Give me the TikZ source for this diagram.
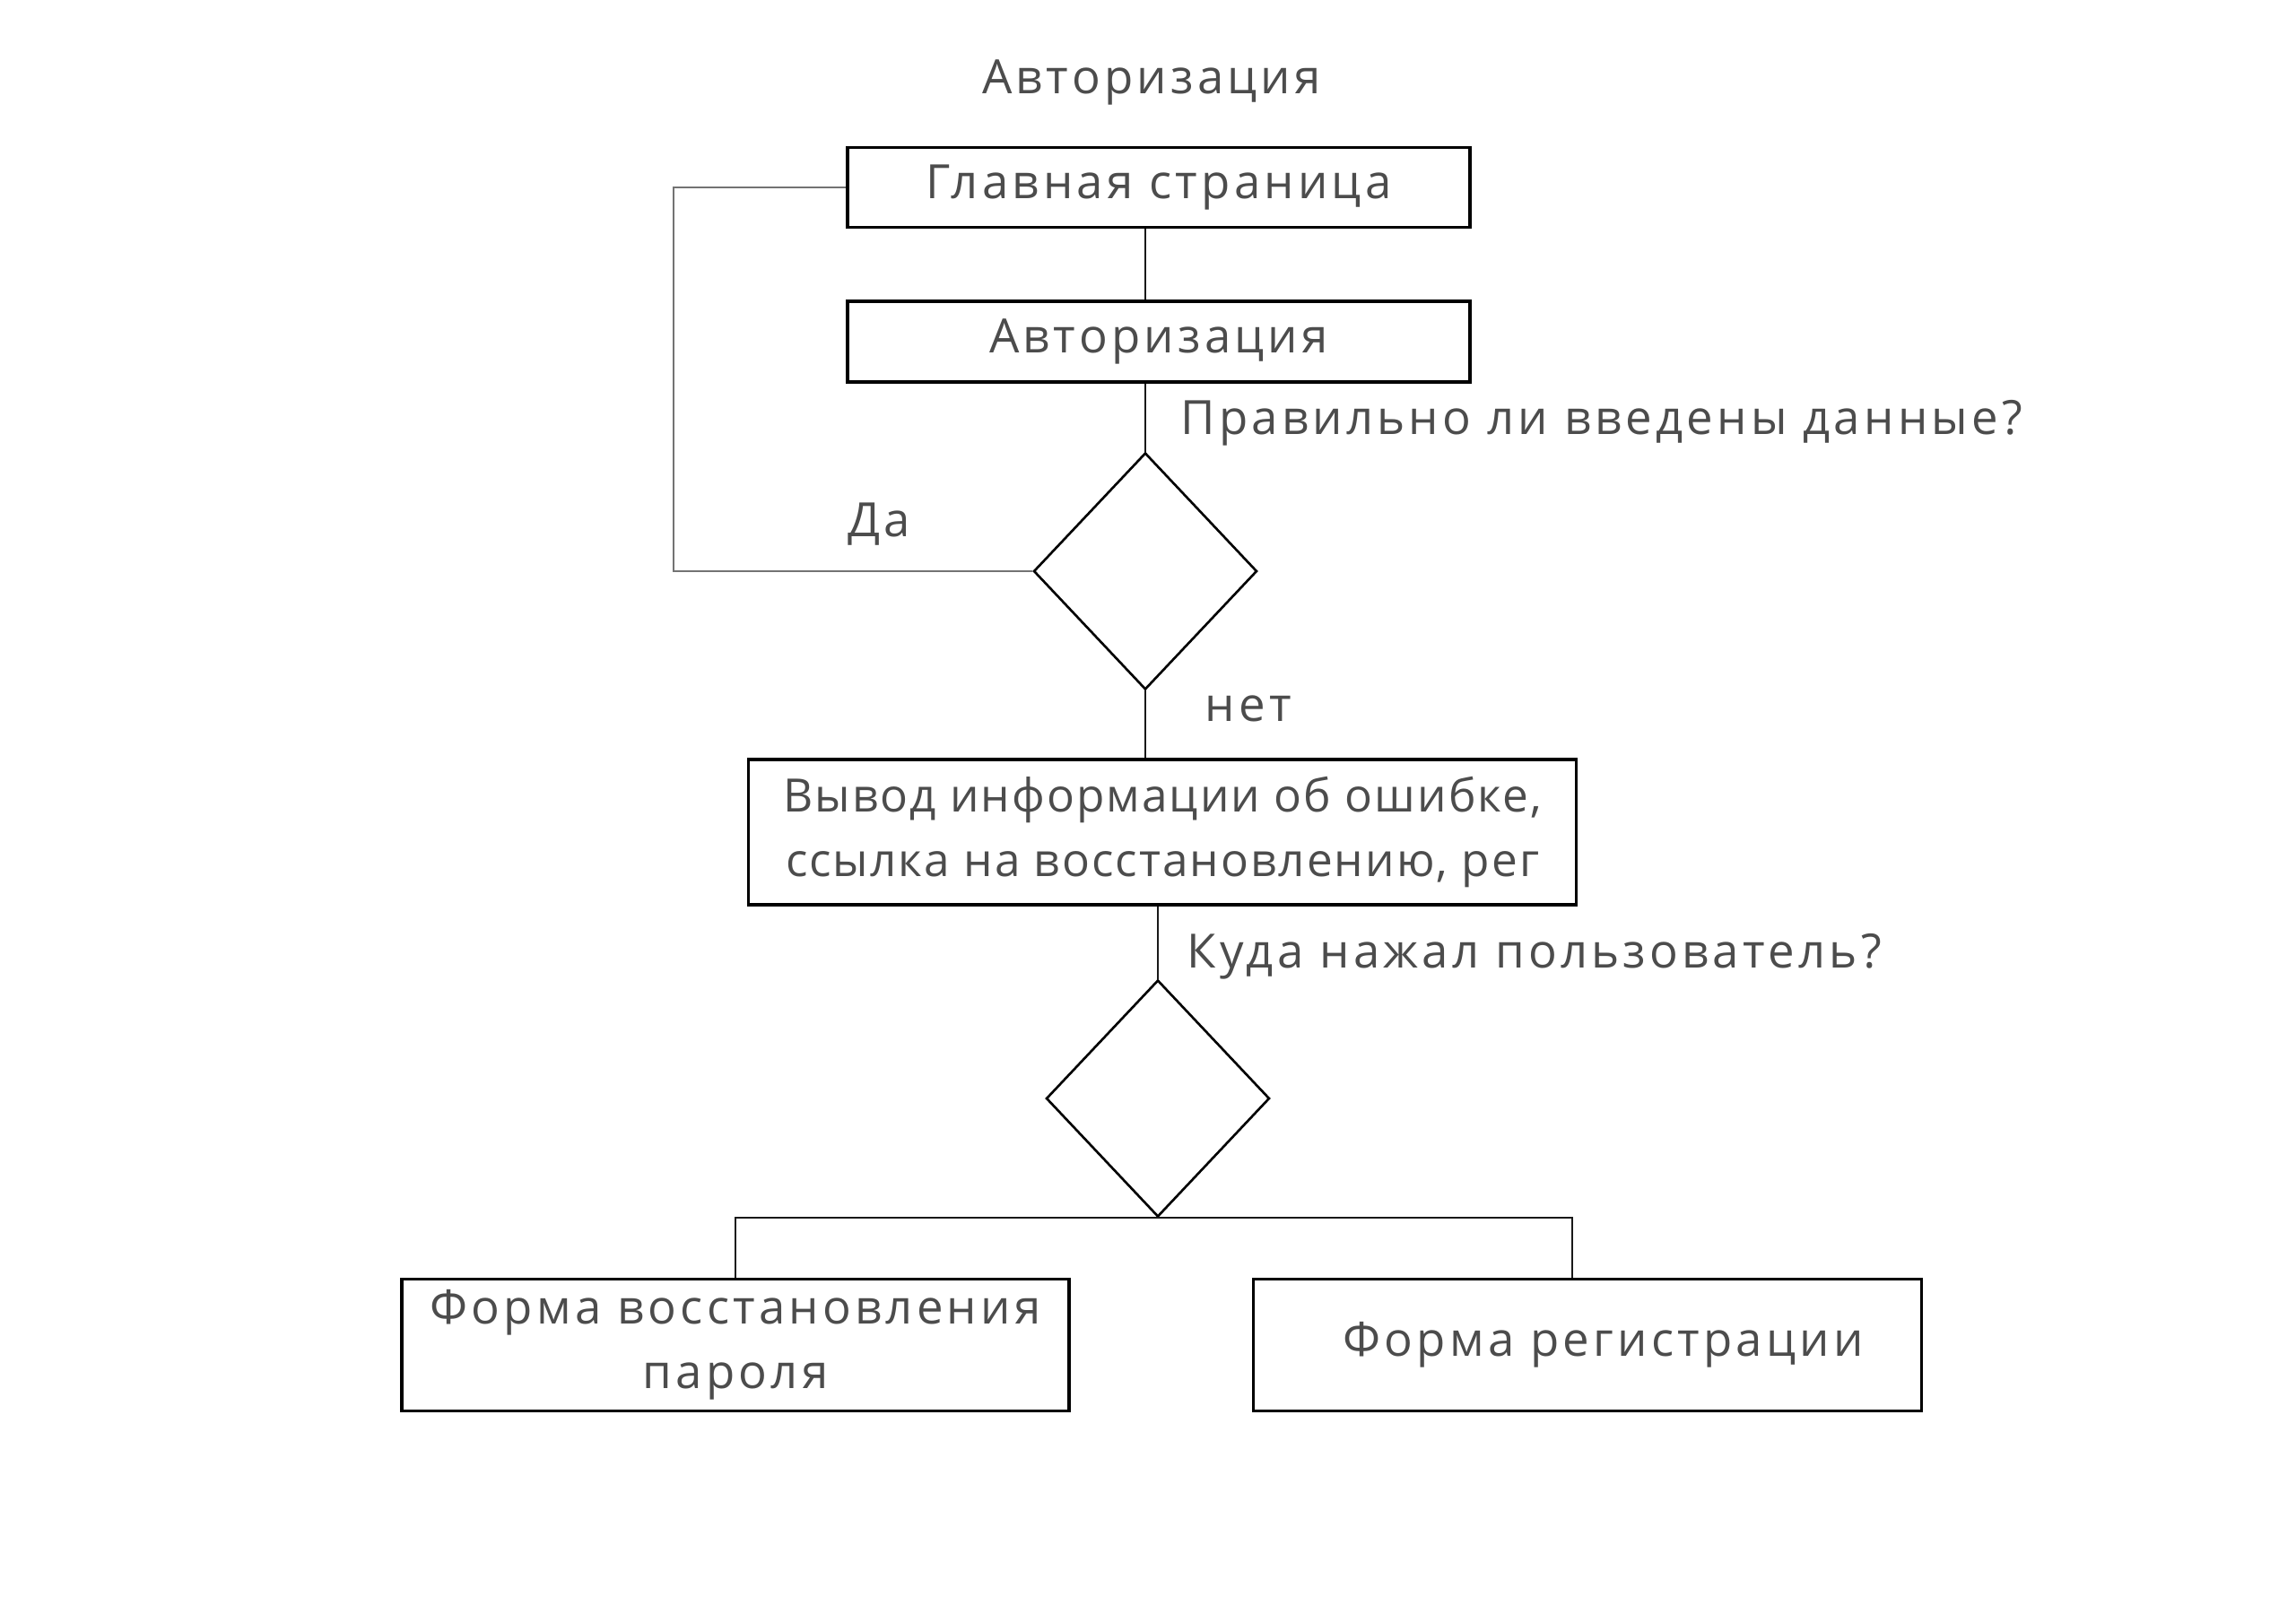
\documentclass[tikz,border=0pt]{standalone}
\usepackage{fontspec}
\setmainfont{Open Sans}[LetterSpace=8]
\usetikzlibrary{positioning,shapes.geometric}
\tikzset{
boxstyle/.style={
  rectangle,
  line width=1pt,
  inner sep=0pt,
  align=center,
  draw=black,
  text=black!70,
  }
}
\tikzset{
diamstyle/.style={
  diamond,
  line width=0.75pt,
  inner sep=0pt,
  draw=black,
  minimum width=2.49cm,
  minimum height=2.64cm,
  }
}
\tikzset{
thinline/.style={
  line width=0.5pt,
  draw=black!90,
  },
loopline/.style={
  line width=0.5pt,
  draw=black!55,
  },
lbl/.style={
  text=black!70,
  inner sep=0pt,
  }
}

\begin{document}
\begin{tikzpicture}[font=\fontsize{15}{20.5}\selectfont]
    \useasboundingbox (0,0) rectangle (25.6,-18.1);
    \node[lbl] (title) at (12.84,-0.92) {Авторизация};
    \node[boxstyle, minimum width=6.94cm, minimum height=0.89cm] (main) at (12.92,-2.09) {Главная страница};
    \node[boxstyle, minimum width=6.94cm, minimum height=0.90cm, below=0.79cm of main] (auth) {Авторизация};
    \node[diamstyle] (d1) at (12.77,-6.37) {};
    \node[boxstyle, minimum width=9.23cm, minimum height=1.62cm,
          font=\fontsize{14.6}{20.5}\selectfont\addfontfeatures{LetterSpace=4}] (err) at (12.96,-9.28) {Вывод информации об ошибке,\\ссылка на восстановлению, рег};
    \node[diamstyle] (d2) at (12.91,-12.25) {};
    \node[boxstyle, minimum width=7.44cm, minimum height=1.47cm] (rec) at (8.20,-15.0) {Форма восстановления\\пароля};
    \node[boxstyle, minimum width=7.45cm, minimum height=1.47cm] (reg) at (17.70,-15.0) {\hspace*{0.35cm}Форма регистрации};

    \node[lbl, anchor=west] (q1) at (13.16,-4.72) {Правильно ли введены данные?};
    \node[lbl] (yes) at (9.80,-5.85) {Да};
    \node[lbl] (no) at (13.92,-7.90) {нет};
    \node[lbl, anchor=west] (q2) at (13.23,-10.67) {Куда нажал пользователь?};
    \coordinate (lc) at (7.51,-6.37);
    \coordinate (regin) at ([xshift=-0.17cm]reg.north);

    \draw[thinline] (d1.north |- main.south) -- (d1.north |- auth.north);
    \draw[thinline] (d1.north |- auth.south) -- (d1.north);
    \draw[loopline] (d1.west) -- (lc) |- (main.west);
    \draw[thinline] (d1.south) -- (d1.south |- err.north);
    \draw[thinline] (d2.north |- err.south) -- (d2.north);
    \draw[thinline] (rec.north) |- (d2.south) -| (regin);
\end{tikzpicture}
\end{document}
